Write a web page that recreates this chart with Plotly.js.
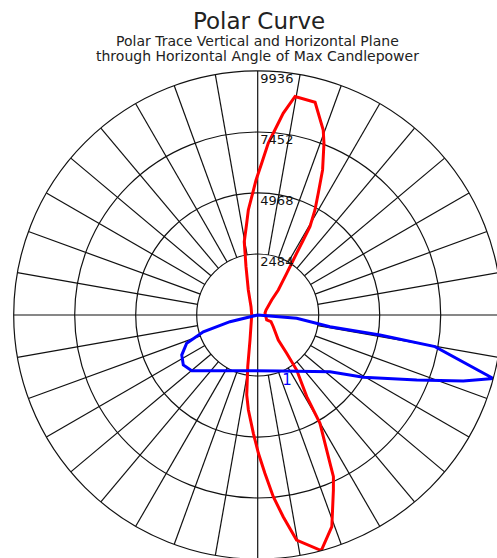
<!DOCTYPE html>
<html>
<head>
<meta charset="utf-8">
<script src="https://cdn.plot.ly/plotly-3.0.1.min.js"></script>
<style>
html,body{margin:0;padding:0;overflow:hidden;background:#fff;}
#chart{width:520px;height:560px;}
</style>
</head>
<body>
<div id="chart"></div>
<script>
// ---- data (candela vs angle; 0 deg = nadir, 90 deg = right, 180 deg = zenith) ----
const maxCandela = 9936;
const ringValues = [2484, 4968, 7452, 9936];
const ringLabels = ["2484", "4968", "7452", "9936"];

// Vertical plane trace (red)
const verticalTheta = [270, 342.9, 349.1, 352.2, 354.4, 357.9, 0.3, 2.6, 4.9, 7.2, 9.8, 15.1, 19.3, 23.4, 25.1, 26.0, 29.9, 31.0, 35.3, 37.1, 39.5, 53.1, 63.3, 60.9, 105.3, 121.0, 137.0, 140.5, 145.2, 147.1, 148.7, 149.4, 151.4, 153.7, 155.9, 158.9, 160.5, 164.9, 170.3, 172.8, 174.7, 176.5, 178.5, 180.7, 182.9, 185.1, 186.8, 190.4, 193.6, 200.6, 218.9, 270];
const verticalCd    = [244, 1065, 2144, 3288, 3887, 4821, 5632, 6453, 7426, 8279, 9299, 9936, 9133, 7762, 7269, 6719, 5087, 3879, 2746, 1956, 1319, 794, 606, 419, 308, 395, 835, 1319, 2068, 2668, 3574, 4179, 4871, 5587, 6471, 7495, 7993, 8970, 9027, 8279, 7566, 7004, 6180, 5498, 4812, 4293, 3773, 3034, 2024, 1087, 434, 244];

// Horizontal plane trace (blue)
const horizontalTheta = [0, 283.6, 287.1, 291.7, 297.8, 303.9, 310.2, 339.3, 21.7, 51.9, 59.5, 67.8, 72.2, 74.9, 79.9, 80.7, 80.8, 85.2, 0];
const horizontalCd    = [0, 1160, 2317, 3112, 3497, 3650, 3516, 2424, 2454, 3741, 4993, 6995, 8792, 9936, 7334, 5046, 2982, 1593, 0];

// Trace marker label
const markerLabel = {text: "1", theta: 23.9, r: 2940};

// ---- grid (spokes every 10 deg from the first ring outward, full cross lines) ----
const spokeR = [], spokeT = [];
for (let a = 10; a < 360; a += 10) {
  if (a % 90 === 0) continue;
  spokeR.push(ringValues[0], maxCandela, null);
  spokeT.push(a, a, null);
}
const crossR = [maxCandela, maxCandela, null, maxCandela, maxCandela];
const crossT = [0, 180, null, 90, 270];

const W = 520, H = 560;
const cx = 257.7, cy = 315, rad = 244;

const gridLine = {color: '#111', width: 1.2};

const traces = [
  {type: 'scatterpolar', mode: 'lines', r: spokeR, theta: spokeT, line: gridLine, hoverinfo: 'skip', connectgaps: false},
  {type: 'scatterpolar', mode: 'lines', r: crossR, theta: crossT, line: gridLine, hoverinfo: 'skip', connectgaps: false},
  {type: 'scatterpolar', mode: 'lines', r: verticalCd, theta: verticalTheta, line: {color: '#ff0000', width: 3}, name: 'Vertical'},
  {type: 'scatterpolar', mode: 'lines', r: horizontalCd, theta: horizontalTheta, line: {color: '#0000ff', width: 3}, name: 'Horizontal'},
  {type: 'scatterpolar', mode: 'markers+text', r: ringValues, theta: ringValues.map(() => 180), text: ringLabels,
   marker: {size: 2.6, opacity: 0}, cliponaxis: false,
   textposition: 'bottom right', textfont: {family: 'DejaVu Sans', size: 13, color: '#111'}, hoverinfo: 'skip'},
  {type: 'scatterpolar', mode: 'text', r: [markerLabel.r], theta: [markerLabel.theta], text: [markerLabel.text],
   textposition: 'middle center', textfont: {family: 'DejaVu Sans', size: 15, color: '#0000ff'}, hoverinfo: 'skip'}
];

const layout = {
  width: W, height: H,
  margin: {l: 0, r: 0, t: 0, b: 0, pad: 0},
  paper_bgcolor: '#fff',
  showlegend: false,
  font: {family: 'DejaVu Sans', color: '#222'},
  polar: {
    domain: {x: [(cx - rad) / W, (cx + rad) / W], y: [(H - cy - rad) / H, (H - cy + rad) / H]},
    bgcolor: '#fff',
    radialaxis: {range: [0, maxCandela], tickvals: ringValues, showticklabels: false, ticks: '',
                 showgrid: true, gridcolor: '#111', gridwidth: 1.2, showline: false},
    angularaxis: {rotation: 270, direction: 'counterclockwise', showgrid: false, showticklabels: false,
                  ticks: '', showline: true, linecolor: '#111', linewidth: 1.2}
  },
  annotations: [
    {text: 'Polar Curve', xref: 'paper', yref: 'paper', x: 259 / W, y: 1 - 21.3 / H, xanchor: 'center', yanchor: 'middle',
     showarrow: false, font: {family: 'DejaVu Sans', size: 23, color: '#222'}},
    {text: 'Polar Trace Vertical and Horizontal Plane', xref: 'paper', yref: 'paper', x: 257.5 / W, y: 1 - 40.9 / H,
     xanchor: 'center', yanchor: 'middle', showarrow: false, font: {family: 'DejaVu Sans', size: 14, color: '#222'}},
    {text: 'through Horizontal Angle of Max Candlepower', xref: 'paper', yref: 'paper', x: 257.5 / W, y: 1 - 56.2 / H,
     xanchor: 'center', yanchor: 'middle', showarrow: false, font: {family: 'DejaVu Sans', size: 14, color: '#222'}}
  ]
};

Plotly.newPlot('chart', traces, layout, {staticPlot: true, displayModeBar: false});
</script>
</body>
</html>
